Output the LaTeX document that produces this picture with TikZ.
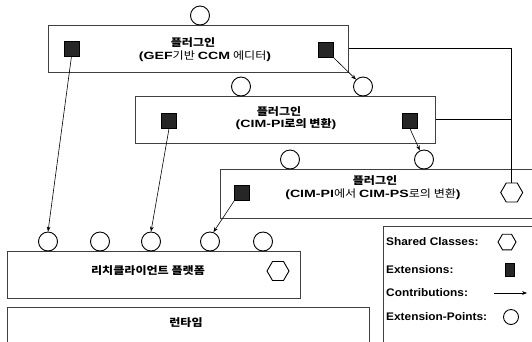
\documentclass[tikz,border=0pt]{standalone}
\usepackage{fontspec}
\setmainfont{Liberation Sans}
\newfontfamily\lat[FakeStretch=1.35]{Liberation Sans}
\newfontfamily\kr[FakeStretch=1.15]{Noto Sans CJK KR}
\newfontfamily\leg[FakeStretch=1.08]{Liberation Sans}
\usetikzlibrary{shapes.geometric,arrows.meta}
\newcommand\Lt[1]{{\lat\bfseries #1}}
\newcommand\Kt[1]{{\kr\bfseries #1}}
\newcommand\Kr[1]{{\kr #1}}
\tikzset{
  pbox/.style={draw=black!75, line width=0.6pt, rectangle, inner sep=0, anchor=north west},
  ttl/.style={inner sep=0, font=\fontsize{10.5}{13}\selectfont},
  legtxt/.style={inner sep=0, anchor=west, font=\leg\bfseries\fontsize{11}{13}\selectfont},
  ep/.style={circle, draw, line width=0.9pt, minimum size=19pt, inner sep=0, fill=white},
  sc/.style={regular polygon, regular polygon sides=6, draw, line width=0.9pt, minimum size=22pt, inner sep=0},
  ext/.style={rectangle, fill=black!85, draw=black, minimum size=15pt, inner sep=0},
  contrib/.style={line width=0.6pt, -{Stealth[length=5pt,width=3.8pt]}},
  conn/.style={line width=0.8pt}
}
\begin{document}
\begin{tikzpicture}[x=1pt,y=-1pt]
\useasboundingbox (0,0) rectangle (532,341);
\clip (0,0) rectangle (532,341);
% boxes
\node[pbox, minimum width=300pt, minimum height=47pt] (box1) at (48,25) {};
\node[pbox, minimum width=300pt, minimum height=47pt] (box2) at (135,96) {};
\node[pbox, minimum width=320pt, minimum height=49pt] (box3) at (220,169) {};
\node[pbox, minimum width=293pt, minimum height=47pt] (plat) at (7,251) {};
\node[pbox, minimum width=362pt, minimum height=60pt] (rt) at (7,307) {};
\node[pbox, minimum width=160pt, minimum height=130pt] (legend) at (383,226) {};
% titles
\node[ttl] (l1a) at (193,43) {\Kt{플러그인}};
\node[ttl] (l1b) at (205,56) {\Lt{(GEF}\Kr{기반} \Lt{CCM} \Kr{에디터}\Lt{)}};
\node[ttl] (l2a) at (279,111.5) {\Kt{플러그인}};
\node[ttl] (l2b) at (286,124) {\Lt{(CIM-PI}\Kt{로의 변환}\Lt{)}};
\node[ttl] (l3a) at (375,181) {\Kt{플러그인}};
\node[ttl] (l3b) at (373,194) {\Lt{(CIM-PI}\Kr{에서} \Lt{CIM-PS}\Kr{로의 변환}\Lt{)}};
\node[ttl] (lp) at (148,271) {\Kt{리치클라이언트 플랫폼}};
\node[ttl] (lr) at (186,323) {\Kt{런타임}};
% extension points
\node[ep] (c1) at (200,15.5) {};
\node[ep] (c2a) at (241,86.5) {};
\node[ep] (c2b) at (363,86.5) {};
\node[ep] (c3a) at (290,159.5) {};
\node[ep] (c3b) at (424,159.5) {};
\node[ep] (b1) at (48,241.5) {};
\node[ep] (b2) at (100,241.5) {};
\node[ep] (b3) at (151,241.5) {};
\node[ep] (b4) at (210,241.5) {};
\node[ep] (b5) at (263,241.5) {};
% extensions
\node[ext] (s1l) at (71.5,48.5) {};
\node[ext] (s1r) at (326,50) {};
\node[ext] (s2l) at (169,121) {};
\node[ext] (s2r) at (410,121) {};
\node[ext] (s3) at (242,193) {};
% shared classes
\node[sc] (hx) at (511.7,192.5) {};
\node[sc] (hp) at (278,271) {};
% connectors
\draw[conn] (box1.east) -| (hx.north);
\draw[conn] (box2.east) -- (box2.east -| hx.north);
\draw[contrib] (s1l.south) -- (b1.north);
\draw[contrib] (s2l.south) -- (b3.north);
\draw[contrib] (s3.south west) -- (b4.70);
\draw[contrib] (s1r.south east) -- (c2b.135);
\draw[contrib] (s2r.south) -- (c3b.115);
% legend
\node[legtxt] (lg1) at (386,242) {Shared Classes:};
\node[legtxt] (lg2) at (386,270) {Extensions:};
\node[legtxt] (lg3) at (386,293) {Contributions:};
\node[legtxt] (lg4) at (386,317) {Extension-Points:};
\node[sc, minimum size=18pt] (lhx) at (507,242) {};
\node[ext, minimum width=9pt, minimum height=13pt] (lsq) at (510,270) {};
\coordinate (la) at (494,293);
\coordinate (lb) at (527,293);
\draw[contrib] (la) -- (lb);
\node[ep, minimum size=15pt] (lep) at (511,317) {};
\end{tikzpicture}
\end{document}
